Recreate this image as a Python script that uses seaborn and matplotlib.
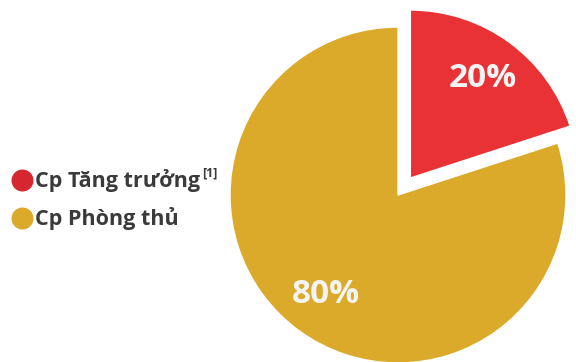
import matplotlib.pyplot as plt
import seaborn as sns

labels = ["Cp Tăng trưởng", "Cp Phòng thủ"]
shares = [20, 80]
colors = ["#E83235", "#DBAA2A"]
legend_colors = ["#D6262F", "#DBAA2A"]

sns.set_theme(style="white")
plt.rcParams["font.family"] = ["Open Sans", "DejaVu Sans"]

fig = plt.figure(figsize=(5.76, 3.62), dpi=100)
ax = fig.add_axes([0, 0, 1, 1])

# explode is in data units here (pixels), not a fraction of the radius
wedges, texts, autotexts = ax.pie(
    shares, colors=colors, startangle=90, counterclock=False,
    explode=[21, 0], center=(398, 167), radius=168,
    autopct="%d%%", pctdistance=0.73, frame=True,
    textprops=dict(color="#F4F4F4", fontsize=24, fontweight="bold"),
)
ax.set_xlim(0, 576)
ax.set_ylim(0, 362)
ax.set_aspect("equal")
ax.axis("off")

# legend drawn by hand on the left
for i, (lab, col) in enumerate(zip(labels, legend_colors)):
    y = 182 - i * 38
    ax.scatter([22], [y], s=220, color=col, zorder=3)
    ax.text(35, y, lab, fontsize=15.5, fontweight="bold", color="#3A3A3A",
            va="center", ha="left")
ax.text(202, 189, "[1]", fontsize=9, fontweight="bold", color="#3A3A3A",
        va="center", ha="left")

fig.savefig("out.png", dpi=100)
